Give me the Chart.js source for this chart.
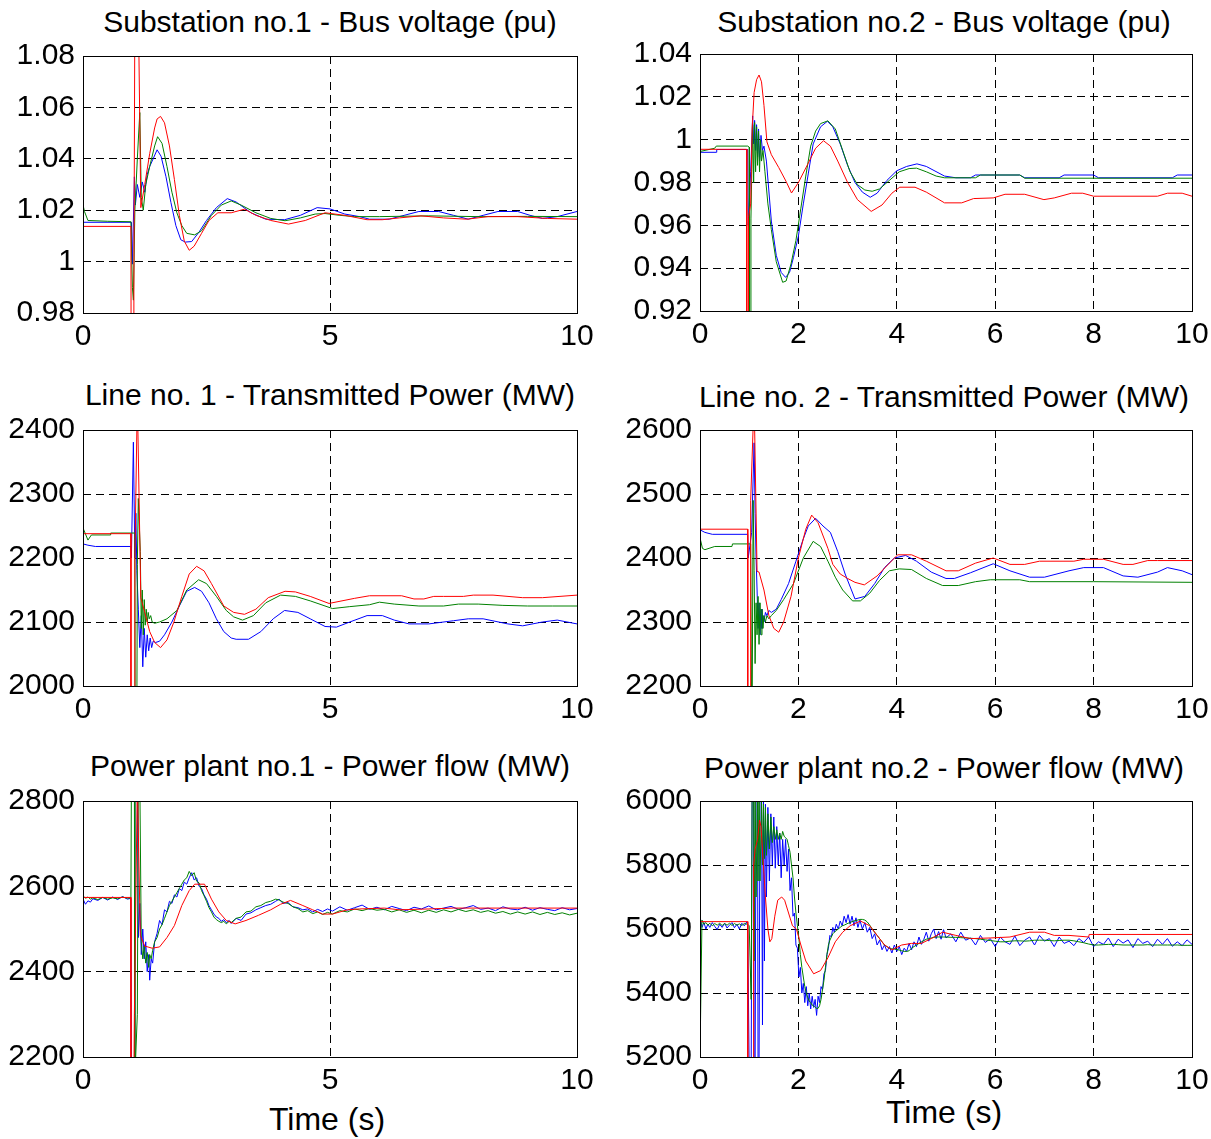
<!DOCTYPE html>
<html lang="en">
<head>
<meta charset="UTF-8">
<title>Bus voltage and power flow after fault</title>
<script src="https://cdn.jsdelivr.net/npm/chart.js"></script>
<style>
  body { margin: 0; background: #fff; font-family: 'Liberation Sans', Arial, sans-serif; }
  #page { position: relative; width: 1211px; height: 1139px; overflow: hidden; background: #fff; }
  #page canvas { position: absolute; }
  .title { position: absolute; font-size: 30px; line-height: 30px; white-space: nowrap; transform: translateX(-50%); color: #000; }
  .xlabel { position: absolute; font-size: 32px; line-height: 32px; white-space: nowrap; transform: translateX(-50%); color: #000; }
</style>
</head>
<body>
<div id="page">
  <div class="title" style="left:330px; top:7px;">Substation no.1 - Bus voltage (pu)</div>
  <div class="title" style="left:944px; top:7px;">Substation no.2 - Bus voltage (pu)</div>
  <div class="title" style="left:330px; top:380px;">Line no. 1 - Transmitted Power (MW)</div>
  <div class="title" style="left:944px; top:382px;">Line no. 2 - Transmitted Power (MW)</div>
  <div class="title" style="left:330px; top:751px;">Power plant no.1 - Power flow (MW)</div>
  <div class="title" style="left:944px; top:753px;">Power plant no.2 - Power flow (MW)</div>
  <div class="xlabel" style="left:327px; top:1103px;">Time (s)</div>
  <div class="xlabel" style="left:944px; top:1096px;">Time (s)</div>
</div>

<script>
// ---- tick labels ----
const xTicks5 = [0, 5, 10];
const xTicks2 = [0, 2, 4, 6, 8, 10];
const bus1Ticks = [0.98, 1, 1.02, 1.04, 1.06, 1.08];
const bus2Ticks = [0.92, 0.94, 0.96, 0.98, 1, 1.02, 1.04];
const line1Ticks = [2000, 2100, 2200, 2300, 2400];
const line2Ticks = [2200, 2300, 2400, 2500, 2600];
const plant1Ticks = [2200, 2400, 2600, 2800];
const plant2Ticks = [5200, 5400, 5600, 5800, 6000];

// ---- Substation no.1 bus voltage (pu) ----
const bus1RedT = [0, 0.97, 0.975, 1.02, 1.03, 1.05, 1.12, 1.17, 1.25, 1.35, 1.45, 1.50, 1.57, 1.65, 1.75, 1.85, 1.95, 2.05, 2.15, 2.25,
  2.40, 2.55, 2.73, 3.0, 3.27, 3.5, 3.8, 4.16, 4.5, 4.9, 5.3, 5.75, 6.06, 6.4, 6.84, 7.3, 7.77, 8.2, 8.8, 9.4, 10];
const bus1Red = [1.0137, 1.0137, 0.95, 0.95, 0.989, 1.10, 1.10, 1.021, 1.03, 1.042, 1.052, 1.0555, 1.0565, 1.054, 1.045, 1.032, 1.018, 1.008, 1.0044, 1.006,
  1.011, 1.016, 1.019, 1.019, 1.0204, 1.018, 1.016, 1.0146, 1.016, 1.019, 1.018, 1.0163, 1.0163, 1.017, 1.0178, 1.017, 1.0165, 1.0175, 1.0175, 1.0168, 1.0165];
const bus1GreenT = [0, 0.005, 0.03, 0.1, 0.5, 0.97, 1.0, 1.02, 1.05, 1.10, 1.15, 1.18, 1.22, 1.27, 1.35, 1.45, 1.51, 1.6, 1.7, 1.8,
  1.9, 2.0, 2.1, 2.26, 2.4, 2.6, 2.8, 3.0, 3.2, 3.5, 3.8, 4.09, 4.4, 4.7, 4.9, 5.2, 5.5, 6.0, 7.0, 8.0, 9.0, 10];
const bus1Green = [0.98, 1.0217, 1.0195, 1.016, 1.0157, 1.0155, 0.99, 0.985, 1.02, 1.04, 1.058, 1.025, 1.02, 1.03, 1.037, 1.045, 1.0486, 1.046, 1.037, 1.027,
  1.019, 1.014, 1.011, 1.0104, 1.012, 1.018, 1.022, 1.0236, 1.022, 1.019, 1.0168, 1.0159, 1.017, 1.0185, 1.0187, 1.018, 1.0175, 1.0175, 1.0178, 1.0175, 1.0176, 1.0175];
const bus1BlueT = [0, 0.98, 1.0, 1.04, 1.06, 1.10, 1.15, 1.20, 1.25, 1.30, 1.35, 1.42, 1.50, 1.58, 1.68, 1.78, 1.88, 1.98, 2.07, 2.2,
  2.35, 2.5, 2.7, 2.92, 3.1, 3.4, 3.7, 4.08, 4.4, 4.74, 5.0, 5.3, 5.6, 5.8, 6.2, 6.5, 6.8, 7.2, 7.5, 7.8,
  8.1, 8.4, 8.8, 9.05, 9.3, 9.6, 10];
const bus1Blue = [1.0153, 1.0153, 0.999, 1.033, 1.022, 1.030, 1.025, 1.031, 1.027, 1.034, 1.037, 1.040, 1.0435, 1.041, 1.033, 1.023, 1.014, 1.0085, 1.0076, 1.0078,
  1.0115, 1.016, 1.021, 1.0245, 1.0232, 1.019, 1.0165, 1.0163, 1.018, 1.021, 1.0205, 1.0185, 1.0175, 1.0165, 1.0165, 1.018, 1.0195, 1.0195, 1.018, 1.0165,
  1.018, 1.0195, 1.0195, 1.018, 1.0168, 1.0175, 1.0195];

// ---- Substation no.2 bus voltage (pu) ----
const bus2RedT = [0, 0.95, 0.951, 0.98, 0.985, 1.03, 1.06, 1.1, 1.15, 1.2, 1.25, 1.3, 1.36, 1.45, 1.6, 1.75, 1.86, 2.0, 2.2, 2.35,
  2.51, 2.65, 2.8, 3.0, 3.2, 3.48, 3.7, 3.9, 4.06, 4.37, 4.6, 4.97, 5.32, 5.56, 5.96, 6.2, 6.6, 6.99, 7.2, 7.55,
  7.78, 8.0, 9.3, 9.5, 9.8, 10];
const bus2Red = [0.9955, 0.9955, 0.90, 0.90, 0.9636, 0.97, 1.005, 1.022, 1.028, 1.0302, 1.027, 1.016, 0.999, 0.993, 0.987, 0.9805, 0.9751, 0.980, 0.989, 0.996,
  0.9995, 0.997, 0.990, 0.980, 0.972, 0.9665, 0.9695, 0.975, 0.9778, 0.9778, 0.9755, 0.9705, 0.9705, 0.9725, 0.9728, 0.9745, 0.9745, 0.972, 0.9728, 0.975,
  0.975, 0.9736, 0.9736, 0.975, 0.975, 0.9736];
const bus2BlueT = [0, 0.33, 0.34, 0.97, 0.98, 1.03, 1.07, 1.09, 1.11, 1.13, 1.15, 1.17, 1.19, 1.21, 1.24, 1.27, 1.30, 1.35, 1.45, 1.55,
  1.65, 1.74, 1.82, 1.9, 2.0, 2.1, 2.2, 2.3, 2.45, 2.59, 2.7, 2.85, 3.0, 3.15, 3.3, 3.46, 3.6, 3.8, 4.0, 4.2,
  4.41, 4.6, 4.97, 5.2, 5.5, 5.6, 6.5, 6.6, 7.3, 7.4, 8.0, 8.1, 9.6, 9.7, 10];
const bus2Blue = [0.9941, 0.9941, 0.9954, 0.9954, 0.96, 0.985, 1.0111, 0.998, 1.009, 0.995, 1.007, 0.992, 1.005, 0.990, 1.002, 0.995, 0.997, 0.99, 0.962, 0.946,
  0.938, 0.9357, 0.938, 0.945, 0.955, 0.97, 0.984, 0.998, 1.006, 1.0086, 1.006, 0.998, 0.988, 0.980, 0.9755, 0.9731, 0.975, 0.981, 0.9855, 0.9875,
  0.9887, 0.9875, 0.983, 0.9822, 0.9822, 0.9835, 0.9835, 0.9822, 0.9822, 0.9835, 0.9835, 0.9822, 0.9822, 0.9835, 0.9835];
const bus2GreenT = [0, 0.005, 0.3, 0.33, 0.97, 1.0, 1.005, 1.03, 1.035, 1.07, 1.09, 1.11, 1.13, 1.15, 1.17, 1.19, 1.21, 1.23, 1.25, 1.28,
  1.32, 1.38, 1.45, 1.55, 1.68, 1.75, 1.85, 1.95, 2.05, 2.15, 2.25, 2.35, 2.45, 2.6, 2.75, 2.9, 3.05, 3.2, 3.35, 3.5,
  3.65, 3.85, 4.05, 4.25, 4.4, 4.6, 4.8, 4.97, 5.6, 5.7, 6.5, 6.6, 10];
const bus2Green = [0.92, 0.9945, 0.996, 0.997, 0.997, 0.9965, 0.90, 0.90, 0.963, 1.007, 0.98, 1.008, 0.985, 1.006, 0.988, 1.004, 0.985, 1.0, 0.99, 0.995,
  0.985, 0.97, 0.958, 0.943, 0.9334, 0.934, 0.942, 0.953, 0.968, 0.983, 0.997, 1.004, 1.0075, 1.0088, 1.005, 0.995, 0.985, 0.979, 0.9765, 0.9759,
  0.977, 0.981, 0.985, 0.9865, 0.9867, 0.985, 0.983, 0.9822, 0.9822, 0.9835, 0.9835, 0.982, 0.982];

// ---- Line no.1 transmitted power (MW) ----
const line1RedT = [0, 0.97, 0.971, 1.04, 1.05, 1.10, 1.11, 1.17, 1.25, 1.35, 1.45, 1.57, 1.7, 1.84, 2.0, 2.15, 2.3, 2.45, 2.6, 2.85,
  3.05, 3.27, 3.5, 3.75, 4.09, 4.3, 4.6, 4.98, 5.5, 5.8, 6.45, 6.7, 6.9, 7.1, 7.3, 7.7, 7.9, 8.3, 8.9, 9.3, 10];
const line1Red = [2238, 2238, 1950, 1950, 2200, 2450, 2450, 2138, 2115, 2085, 2068, 2060, 2072, 2100, 2140, 2175, 2187, 2180, 2160, 2125,
  2115, 2112, 2120, 2138, 2148, 2147, 2140, 2129, 2137, 2141, 2141, 2136, 2136, 2140, 2140, 2140, 2142, 2142, 2138, 2138, 2142];
const line1GreenT = [0, 0.005, 0.1, 0.17, 0.55, 0.56, 1.05, 1.055, 1.09, 1.10, 1.12, 1.16, 1.18, 1.2, 1.22, 1.24, 1.26, 1.28, 1.30, 1.32,
  1.34, 1.37, 1.40, 1.45, 1.55, 1.7, 1.9, 2.1, 2.34, 2.5, 2.7, 2.9, 3.05, 3.23, 3.45, 3.7, 4.0, 4.3, 4.6, 5.05,
  5.4, 5.8, 6.0, 6.3, 6.8, 7.3, 7.6, 8.0, 8.5, 9.0, 9.5, 10];
const line1Green = [2000, 2246, 2228, 2236, 2236, 2239, 2239, 1950, 1950, 2190, 2293, 2210, 2090, 2150, 2080, 2135, 2095, 2120, 2100, 2115,
  2105, 2110, 2100, 2098, 2100, 2105, 2118, 2150, 2166, 2160, 2140, 2118, 2108, 2103, 2110, 2130, 2142, 2140, 2133, 2121,
  2124, 2127, 2131, 2128, 2125, 2125, 2128, 2128, 2126, 2125, 2125, 2125];
const line1BlueT = [0, 0.1, 0.25, 0.97, 0.98, 1.02, 1.05, 1.07, 1.09, 1.12, 1.15, 1.18, 1.21, 1.24, 1.27, 1.30, 1.33, 1.36, 1.39, 1.42,
  1.47, 1.55, 1.65, 1.8, 1.95, 2.1, 2.26, 2.4, 2.55, 2.7, 2.85, 3.0, 3.1, 3.35, 3.6, 3.85, 4.08, 4.35, 4.6, 4.9,
  5.13, 5.4, 5.75, 6.06, 6.3, 6.6, 7.0, 7.5, 7.8, 8.1, 8.6, 8.9, 9.3, 9.6, 10];
const line1Blue = [2222, 2220, 2218, 2218, 2200, 2381, 2200, 2270, 2180, 2120, 2060, 2110, 2030, 2090, 2045, 2080, 2055, 2075, 2060, 2070,
  2068, 2070, 2080, 2100, 2125, 2148, 2154, 2148, 2130, 2105, 2085, 2075, 2073, 2073, 2085, 2105, 2118, 2115, 2105, 2093,
  2092, 2100, 2110, 2110, 2103, 2097, 2097, 2102, 2105, 2105, 2097, 2094, 2100, 2103, 2097];

// ---- Line no.2 transmitted power (MW) ----
const line2RedT = [0, 0.97, 0.971, 1.02, 1.03, 1.10, 1.11, 1.16, 1.2, 1.3, 1.4, 1.5, 1.6, 1.7, 1.85, 2.0, 2.15, 2.27, 2.4, 2.6,
  2.7, 2.85, 3.0, 3.15, 3.34, 3.6, 3.85, 4.02, 4.3, 4.6, 5.0, 5.25, 5.6, 5.96, 6.3, 6.6, 6.9, 7.6, 7.8, 8.2,
  8.6, 8.8, 9.1, 9.3, 10];
const line2Red = [2445, 2445, 2150, 2150, 2490, 2650, 2650, 2379, 2378, 2350, 2310, 2290, 2284, 2300, 2340, 2400, 2445, 2467, 2455, 2415,
  2390, 2375, 2368, 2362, 2358, 2372, 2392, 2405, 2405, 2395, 2380, 2380, 2392, 2400, 2390, 2390, 2395, 2395, 2398, 2398,
  2390, 2390, 2396, 2396, 2396];
const line2BlueT = [0, 0.1, 0.25, 0.97, 0.98, 1.05, 1.10, 1.12, 1.14, 1.16, 1.18, 1.20, 1.22, 1.24, 1.26, 1.28, 1.30, 1.33, 1.36, 1.40,
  1.45, 1.55, 1.65, 1.8, 1.95, 2.1, 2.2, 2.35, 2.5, 2.65, 2.8, 2.95, 3.15, 3.35, 3.55, 3.75, 3.95, 4.18, 4.4, 4.7,
  5.0, 5.17, 5.5, 5.96, 6.3, 6.7, 7.0, 7.5, 7.8, 8.2, 8.6, 8.9, 9.3, 9.5, 9.8, 10];
const line2Blue = [2444, 2440, 2437, 2437, 2400, 2440, 2580, 2470, 2400, 2350, 2290, 2330, 2280, 2320, 2290, 2310, 2300, 2315, 2310, 2318,
  2315, 2320, 2335, 2360, 2395, 2430, 2450, 2462, 2450, 2440, 2410, 2375, 2336, 2340, 2360, 2385, 2400, 2404, 2395, 2378,
  2368, 2368, 2377, 2391, 2380, 2370, 2370, 2380, 2385, 2385, 2372, 2370, 2378, 2385, 2380, 2374];
const line2GreenT = [0, 0.005, 0.05, 0.1, 0.3, 0.65, 0.66, 0.97, 1.03, 1.05, 1.06, 1.08, 1.10, 1.12, 1.14, 1.16, 1.18, 1.20, 1.22, 1.24,
  1.26, 1.28, 1.30, 1.33, 1.36, 1.40, 1.45, 1.55, 1.7, 1.9, 2.1, 2.3, 2.45, 2.6, 2.75, 2.9, 3.1, 3.26, 3.45, 3.65,
  3.85, 4.05, 4.3, 4.6, 4.93, 5.25, 5.6, 5.9, 6.5, 6.7, 8.0, 10];
const line2Green = [2200, 2430, 2415, 2413, 2418, 2418, 2422, 2422, 2422, 2150, 2150, 2490, 2380, 2235, 2330, 2280, 2340, 2265, 2330, 2280,
  2320, 2290, 2310, 2300, 2310, 2305, 2310, 2318, 2335, 2360, 2400, 2426, 2418, 2395, 2370, 2350, 2333, 2333, 2345, 2365,
  2380, 2383, 2382, 2368, 2357, 2357, 2363, 2366, 2366, 2363, 2363, 2362];

// ---- Power plant no.1 power flow (MW) ----
const plant1T = [
  0, 0.05, 0.1, 0.15, 0.2, 0.3, 0.4, 0.5, 0.6, 0.7,
  0.8, 0.9, 0.97, 0.98, 1.04, 1.05, 1.10, 1.12, 1.15, 1.18,
  1.21, 1.24, 1.27, 1.30, 1.33, 1.35, 1.38, 1.41, 1.45, 1.5,
  1.55, 1.6, 1.65, 1.7, 1.75, 1.8, 1.85, 1.9, 1.95, 2.0,
  2.05, 2.1, 2.15, 2.2, 2.25, 2.3, 2.35, 2.4, 2.45, 2.5,
  2.55, 2.6, 2.65, 2.7, 2.75, 2.8, 2.85, 2.9, 2.96, 3.0,
  3.1, 3.2, 3.3, 3.4, 3.5, 3.6, 3.7, 3.8, 3.9, 3.97,
  4.05, 4.15, 4.25, 4.35, 4.45, 4.55, 4.65, 4.75, 4.85, 4.95,
  5.05, 5.2, 5.35, 5.5, 5.65, 5.8, 5.95, 6.1, 6.25, 6.4,
  6.55, 6.7, 6.85, 7.0, 7.15, 7.3, 7.45, 7.6, 7.75, 7.9,
  8.05, 8.2, 8.35, 8.5, 8.65, 8.8, 8.95, 9.1, 9.25, 9.4,
  9.55, 9.7, 9.85, 10];
const plant1Blue = [
  2570, 2558, 2566, 2563, 2571, 2567, 2574, 2568, 2575, 2569,
  2576, 2570, 2572, 2150, 2150, 2850, 2850, 2480, 2560, 2440,
  2500, 2430, 2470, 2400, 2440, 2380, 2430, 2420, 2470, 2490,
  2520, 2510, 2545, 2540, 2565, 2560, 2580, 2575, 2595, 2590,
  2610, 2605, 2620, 2632, 2615, 2620, 2600, 2595, 2580, 2570,
  2555, 2545, 2535, 2528, 2525, 2518, 2522, 2515, 2520, 2513,
  2525, 2520, 2535, 2538, 2545, 2550, 2555, 2558, 2565, 2570,
  2560, 2562, 2552, 2550, 2545, 2547, 2540, 2546, 2541, 2547,
  2542, 2552, 2544, 2550, 2556, 2546, 2551, 2545, 2553, 2548,
  2543, 2551, 2547, 2554, 2545, 2549, 2553, 2546, 2550, 2555,
  2546, 2549, 2543, 2552, 2547, 2545, 2551, 2544, 2550, 2546,
  2543, 2550, 2545, 2548];
const plant1Green = [
  2578, 2572, 2575, 2570, 2573, 2569, 2574, 2570, 2573, 2571,
  2575, 2572, 2573, 2850, 2850, 2150, 2300, 2850, 2850, 2470,
  2430, 2460, 2420, 2445, 2410, 2440, 2430, 2450, 2470, 2480,
  2500, 2510, 2525, 2540, 2555, 2565, 2575, 2585, 2595, 2605,
  2615, 2620, 2635, 2625, 2632, 2612, 2608, 2590, 2578, 2565,
  2550, 2540, 2528, 2522, 2518, 2515, 2518, 2512, 2518, 2515,
  2525, 2528, 2540, 2542, 2552, 2555, 2562, 2565, 2570, 2568,
  2563, 2560, 2552, 2548, 2540, 2543, 2536, 2540, 2534, 2539,
  2535, 2543, 2540, 2547, 2543, 2548, 2544, 2546, 2540, 2545,
  2539, 2544, 2538, 2544, 2539, 2545, 2540, 2546, 2541, 2545,
  2539, 2543, 2537, 2541, 2535, 2540, 2535, 2540, 2534, 2539,
  2534, 2538, 2533, 2537];
const plant1RedT = [
  0, 0.97, 0.971, 1.03, 1.04, 1.10, 1.11, 1.16, 1.25, 1.4,
  1.55, 1.7, 1.85, 2.0, 2.15, 2.26, 2.46, 2.6, 2.75, 2.9,
  3.08, 3.3, 3.55, 3.8, 4.0, 4.2, 4.45, 4.65, 4.85, 5.05,
  5.35, 5.6, 6.1, 6.4, 7.0, 7.5, 10];
const plant1Red = [
  2574, 2574, 2150, 2150, 2300, 2850, 2850, 2485, 2460, 2455,
  2458, 2480, 2508, 2555, 2590, 2605, 2605, 2570, 2540, 2520,
  2512, 2520, 2532, 2545, 2558, 2567, 2555, 2545, 2535, 2535,
  2545, 2547, 2549, 2545, 2547, 2549, 2549];

// ---- Power plant no.2 power flow (MW) ----
const plant2T = [
  0, 0.04, 0.08, 0.12, 0.16, 0.2, 0.25, 0.3, 0.35, 0.4,
  0.45, 0.5, 0.55, 0.6, 0.65, 0.7, 0.75, 0.8, 0.85, 0.9,
  0.95, 0.97, 1.0, 1.04, 1.06, 1.09, 1.1, 1.12, 1.14, 1.17,
  1.18, 1.2, 1.22, 1.25, 1.27, 1.29, 1.31, 1.33, 1.35, 1.38,
  1.41, 1.44, 1.47, 1.5, 1.53, 1.56, 1.59, 1.62, 1.65, 1.68,
  1.71, 1.74, 1.77, 1.8, 1.83, 1.86, 1.89, 1.92, 1.95, 1.98,
  2.01, 2.04, 2.07, 2.1, 2.13, 2.16, 2.19, 2.22, 2.25, 2.28,
  2.31, 2.34, 2.37, 2.4, 2.43, 2.46, 2.49, 2.52, 2.55, 2.58,
  2.61, 2.64, 2.67, 2.7, 2.73, 2.77, 2.81, 2.85, 2.89, 2.93,
  2.97, 3.01, 3.05, 3.09, 3.13, 3.17, 3.21, 3.25, 3.3, 3.35,
  3.4, 3.45, 3.5, 3.55, 3.6, 3.65, 3.7, 3.75, 3.8, 3.85,
  3.9, 3.95, 4.0, 4.05, 4.1, 4.15, 4.2, 4.25, 4.3, 4.35,
  4.4, 4.45, 4.5, 4.55, 4.6, 4.65, 4.7, 4.75, 4.8, 4.85,
  4.9, 4.95, 5.0, 5.1, 5.2, 5.3, 5.4, 5.5, 5.6, 5.7,
  5.8, 5.9, 6.0, 6.1, 6.2, 6.3, 6.4, 6.5, 6.6, 6.7,
  6.8, 6.9, 7.0, 7.1, 7.2, 7.3, 7.4, 7.5, 7.6, 7.7,
  7.8, 7.9, 8.0, 8.1, 8.2, 8.3, 8.4, 8.5, 8.6, 8.7,
  8.8, 8.9, 9.0, 9.1, 9.2, 9.3, 9.4, 9.5, 9.6, 9.7,
  9.8, 9.9, 10];
const plant2Blue = [
  5640, 5605, 5620, 5600, 5615, 5605, 5620, 5608, 5598, 5615,
  5605, 5618, 5603, 5612, 5620, 5604, 5615, 5600, 5618, 5610,
  5622, 5612, 5150, 5150, 6050, 6050, 5150, 5150, 6050, 6050,
  5150, 5150, 6050, 6050, 5300, 6000, 5500, 5990, 5700, 5980,
  5750, 5960, 5800, 5950, 5790, 5920, 5800, 5900, 5760, 5880,
  5800, 5880, 5780, 5850, 5720, 5760, 5640, 5650, 5550, 5540,
  5450, 5480, 5400, 5430, 5370, 5420, 5360, 5400, 5350, 5390,
  5355, 5380, 5330, 5390, 5370, 5420, 5410, 5460, 5470, 5520,
  5540, 5580, 5575, 5605, 5590, 5615, 5600, 5625, 5610, 5640,
  5620, 5645, 5615, 5640, 5610, 5635, 5605, 5628, 5600, 5620,
  5590, 5605, 5570, 5585, 5550, 5565, 5535, 5550, 5530, 5545,
  5525, 5550, 5530, 5545, 5520, 5540, 5530, 5555, 5535, 5560,
  5545, 5575, 5552, 5568, 5590, 5562, 5585, 5600, 5570, 5592,
  5568, 5598, 5572, 5585, 5560, 5590, 5565, 5572, 5550, 5580,
  5558, 5570, 5545, 5575, 5560, 5552, 5578, 5548, 5565, 5575,
  5550, 5580, 5562, 5570, 5545, 5575, 5555, 5562, 5548, 5570,
  5558, 5575, 5545, 5560, 5552, 5572, 5545, 5568, 5556, 5566,
  5542, 5570, 5555, 5562, 5545, 5568, 5552, 5570, 5546, 5560,
  5548, 5566, 5552];
const plant2Green = [
  5200, 5628, 5615, 5620, 5612, 5618, 5610, 5617, 5612, 5618,
  5611, 5617, 5612, 5618, 5611, 5617, 5612, 5616, 5611, 5617,
  5615, 5615, 5610, 5380, 6050, 6050, 5500, 6050, 5700, 6050,
  5750, 6050, 5750, 6000, 5800, 5990, 5820, 5980, 5830, 5960,
  5850, 5950, 5870, 5920, 5880, 5910, 5880, 5900, 5880, 5905,
  5890, 5885, 5880, 5860, 5840, 5800, 5760, 5700, 5650, 5610,
  5570, 5520, 5480, 5450, 5420, 5400, 5385, 5375, 5370, 5362,
  5360, 5355, 5352, 5352, 5360, 5380, 5410, 5440, 5480, 5520,
  5550, 5565, 5575, 5585, 5590, 5595, 5600, 5605, 5610, 5612,
  5615, 5618, 5620, 5623, 5625, 5627, 5628, 5630, 5630, 5628,
  5622, 5612, 5600, 5590, 5580, 5570, 5560, 5550, 5545, 5540,
  5538, 5537, 5536, 5534, 5532, 5530, 5530, 5532, 5540, 5545,
  5550, 5555, 5560, 5564, 5568, 5570, 5572, 5574, 5575, 5575,
  5575, 5575, 5575, 5574, 5574, 5573, 5572, 5571, 5570, 5568,
  5566, 5564, 5562, 5560, 5560, 5562, 5563, 5563, 5562, 5563,
  5565, 5565, 5565, 5564, 5563, 5564, 5565, 5565, 5563, 5560,
  5557, 5553, 5550, 5550, 5551, 5552, 5552, 5551, 5550, 5550,
  5550, 5550, 5550, 5551, 5550, 5550, 5550, 5550, 5550, 5550,
  5549, 5549, 5549];
const plant2RedT = [
  0, 0.97, 0.971, 1.08, 1.09, 1.12, 1.17, 1.21, 1.24, 1.28,
  1.33, 1.38, 1.42, 1.46, 1.52, 1.58, 1.66, 1.72, 1.8, 1.88,
  1.96, 2.05, 2.15, 2.31, 2.45, 2.6, 2.75, 2.9, 3.05, 3.26,
  3.45, 3.6, 3.75, 3.9, 4.1, 4.3, 4.5, 4.7, 4.93, 5.2,
  5.5, 5.9, 6.3, 6.7, 7.0, 7.2, 7.5, 7.9, 7.91, 10];
const plant2Red = [
  5623, 5623, 5150, 5150, 5800, 5850, 5880, 5940, 5920, 5820,
  5700, 5600, 5560, 5570, 5640, 5690, 5700, 5690, 5650, 5610,
  5600, 5550, 5500, 5460, 5470, 5510, 5560, 5590, 5610, 5625,
  5610, 5580, 5550, 5535, 5550, 5555, 5555, 5570, 5590, 5580,
  5570, 5572, 5575, 5590, 5590, 5580, 5580, 5575, 5583, 5583];

const BLUE = '#0000ff', GREEN = '#008000', RED = '#ff0000';
const FONT = "'Liberation Sans', Arial, sans-serif";

function pts(name, t, v) {
  if (t.length !== v.length) throw new Error(name + ': ' + t.length + ' times vs ' + v.length + ' values');
  return t.map((x, i) => ({ x: x, y: v[i] }));
}

// box = plot area [left, top, right, bottom] in page pixels
const plots = [
  { box: [83, 54, 577, 313], xt: xTicks5, yt: bus1Ticks,
    lines: [['bus1 red', bus1RedT, bus1Red, RED], ['bus1 green', bus1GreenT, bus1Green, GREEN], ['bus1 blue', bus1BlueT, bus1Blue, BLUE]] },
  { box: [700, 52, 1192, 311], xt: xTicks2, yt: bus2Ticks,
    lines: [['bus2 red', bus2RedT, bus2Red, RED], ['bus2 green', bus2GreenT, bus2Green, GREEN], ['bus2 blue', bus2BlueT, bus2Blue, BLUE]] },
  { box: [83, 428, 577, 686], xt: xTicks5, yt: line1Ticks,
    lines: [['line1 red', line1RedT, line1Red, RED], ['line1 green', line1GreenT, line1Green, GREEN], ['line1 blue', line1BlueT, line1Blue, BLUE]] },
  { box: [700, 428, 1192, 686], xt: xTicks2, yt: line2Ticks,
    lines: [['line2 red', line2RedT, line2Red, RED], ['line2 green', line2GreenT, line2Green, GREEN], ['line2 blue', line2BlueT, line2Blue, BLUE]] },
  { box: [83, 799, 577, 1057], xt: xTicks5, yt: plant1Ticks,
    lines: [['plant1 red', plant1RedT, plant1Red, RED], ['plant1 green', plant1T, plant1Green, GREEN], ['plant1 blue', plant1T, plant1Blue, BLUE]] },
  { box: [700, 799, 1192, 1057], xt: xTicks2, yt: plant2Ticks,
    lines: [['plant2 red', plant2RedT, plant2Red, RED], ['plant2 green', plant2T, plant2Green, GREEN], ['plant2 blue', plant2T, plant2Blue, BLUE]] }
];

// solid frame round the plot area, like a MATLAB axes box
const frame = {
  id: 'frame',
  afterDatasetsDraw(chart) {
    const a = chart.chartArea, ctx = chart.ctx;
    ctx.save();
    ctx.strokeStyle = '#000';
    ctx.lineWidth = 1;
    ctx.strokeRect(Math.round(a.left) + 0.5, Math.round(a.top) + 0.5, Math.round(a.right - a.left), Math.round(a.bottom - a.top));
    ctx.restore();
  }
};

const PAD_L = 83, PAD_T = 24, PAD_R = 28, PAD_B = 52;
const page = document.getElementById('page');
const tickFont = { family: FONT, size: 30 };

plots.forEach(p => {
  const [L, T, R, B] = p.box;
  const cv = document.createElement('canvas');
  cv.width = R - L + PAD_L + PAD_R;
  cv.height = B - T + PAD_T + PAD_B;
  cv.style.left = (L - PAD_L) + 'px';
  cv.style.top = (T - PAD_T) + 'px';
  page.appendChild(cv);

  new Chart(cv, {
    type: 'line',
    data: {
      datasets: p.lines.map(([name, t, v, color]) => ({
        data: pts(name, t, v),
        borderColor: color,
        borderWidth: 1,
        pointRadius: 0,
        tension: 0,
        fill: false
      }))
    },
    options: {
      responsive: false,
      animation: false,
      events: [],
      layout: { padding: { top: PAD_T, right: PAD_R, left: 0, bottom: 0 } },
      plugins: { legend: { display: false }, tooltip: { enabled: false } },
      scales: {
        x: {
          type: 'linear',
          min: p.xt[0],
          max: p.xt[p.xt.length - 1],
          afterFit: s => { s.height = PAD_B; },
          afterBuildTicks: s => { s.ticks = p.xt.map(v => ({ value: v })); },
          ticks: { padding: 6, color: '#000', font: tickFont, maxRotation: 0, autoSkip: false, callback: v => String(v) },
          grid: { color: '#000', lineWidth: 1, drawTicks: false },
          border: { display: false, dash: [8, 5] }
        },
        y: {
          type: 'linear',
          min: p.yt[0],
          max: p.yt[p.yt.length - 1],
          afterFit: s => { s.width = PAD_L; },
          afterBuildTicks: s => { s.ticks = p.yt.map(v => ({ value: v })); },
          ticks: { padding: 8, color: '#000', font: tickFont, autoSkip: false, callback: v => String(v) },
          grid: { color: '#000', lineWidth: 1, drawTicks: false },
          border: { display: false, dash: [8, 5] }
        }
      }
    },
    plugins: [frame]
  });
});
</script>
</body>
</html>
